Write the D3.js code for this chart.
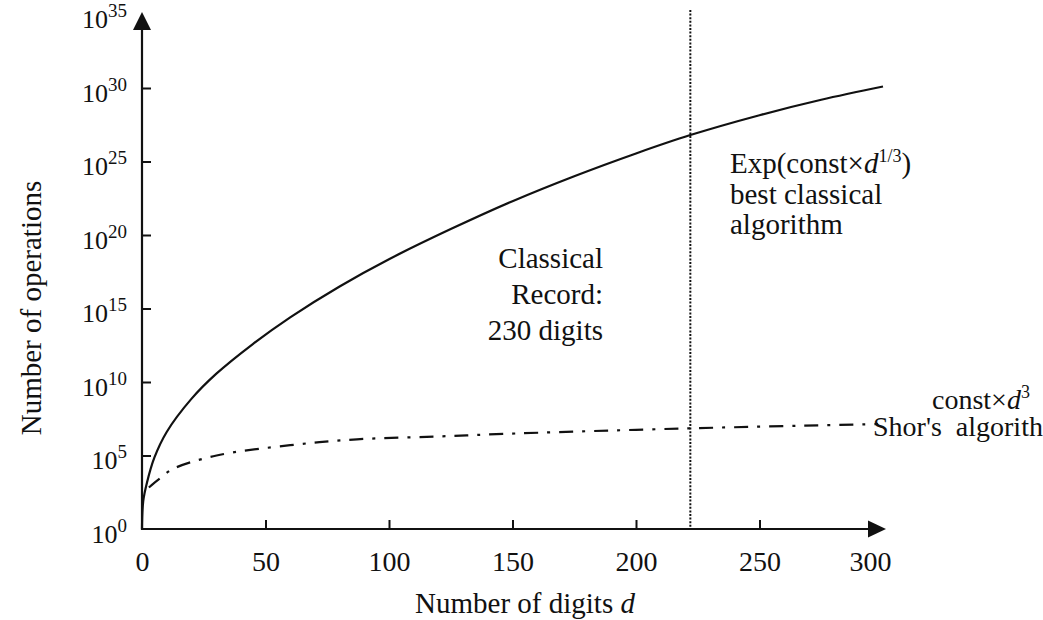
<!DOCTYPE html>
<html>
<head>
<meta charset="utf-8">
<script src="https://cdn.jsdelivr.net/npm/d3@7"></script>
<style>
  html, body { margin: 0; padding: 0; background: #fff; }
  svg { display: block; }
  text { font-family: "Liberation Serif", "Times New Roman", serif; fill: #111; }
</style>
</head>
<body>
<svg id="chart" width="1043" height="620"></svg>
<script>
// ---- data ----
const xTickValues = [0, 50, 100, 150, 200, 250, 300];
const yTickExponents = [0, 5, 10, 15, 20, 25, 30, 35];

// best classical algorithm: digits d -> log10(number of operations)
const classicalDigits = [0, 0.5, 2, 5, 10, 20, 30, 45, 60, 80, 100, 125, 150, 175, 200, 222, 250, 275, 300];
const classicalLog10  = [0, 1.9, 3.15, 4.85, 6.6, 8.85, 10.55, 12.6, 14.4, 16.5, 18.35, 20.4, 22.3, 24.0, 25.55, 26.8, 28.15, 29.2, 30.1];

// Shor's algorithm: digits d -> log10(number of operations)
const shorDigits = [2.8, 3.9, 7.3, 12.7, 30.2, 60, 87, 120.6, 151.7, 222, 298];
const shorLog10  = [2.82, 2.99, 3.45, 4.1, 5.0, 5.7, 6.1, 6.3, 6.5, 6.85, 7.14];

const recordDigits = 222;

// ---- layout ----
const svg = d3.select("#chart");
const x = d3.scaleLinear().domain([0, 300]).range([142, 883]);
const y = d3.scaleLog().domain([1, 1e35]).range([529, 14.5]);
const ink = "#111";

// x axis
const xAxis = d3.axisBottom(x)
  .tickValues(xTickValues)
  .tickSizeInner(-9).tickSizeOuter(0).tickPadding(22)
  .tickFormat(d3.format("d"));
const gx = svg.append("g").attr("transform", `translate(0,${y(1)})`).call(xAxis);
gx.select(".domain").remove();
gx.selectAll(".tick line").attr("stroke", ink).attr("stroke-width", 2)
  .filter(d => d === 0 || d === 300).remove();
gx.selectAll(".tick text")
  .attr("font-family", "Liberation Serif").attr("font-size", 28).attr("fill", ink)
  .attr("dx", d => d === 300 ? -13 : 0);

// y axis
const yAxis = d3.axisLeft(y)
  .tickValues(yTickExponents.map(e => Math.pow(10, e)))
  .tickSizeInner(-9).tickSizeOuter(0).tickPadding(15)
  .tickFormat(() => "");
const gy = svg.append("g").attr("transform", `translate(${x(0)},0)`).call(yAxis);
gy.select(".domain").remove();
gy.selectAll(".tick line").attr("stroke", ink).attr("stroke-width", 2)
  .filter((d, i) => i === 0 || i === yTickExponents.length - 1).remove();
gy.selectAll(".tick text").each(function(d, i) {
  const t = d3.select(this);
  t.attr("font-family", "Liberation Serif").attr("fill", ink).attr("dy", 13).attr("font-size", 26);
  t.append("tspan").text("10");
  t.append("tspan").attr("font-size", 19).attr("dy", -11).text(yTickExponents[i]);
});

// axis lines with arrows
svg.append("line").attr("x1", x(0)).attr("x2", 870).attr("y1", y(1)).attr("y2", y(1))
  .attr("stroke", ink).attr("stroke-width", 2.2);
svg.append("path").attr("d", `M868,${y(1) - 8.5} L886,${y(1)} L868,${y(1) + 8.5} Z`).attr("fill", ink);
svg.append("line").attr("x1", x(0)).attr("x2", x(0)).attr("y1", y(1) + 1).attr("y2", 28)
  .attr("stroke", ink).attr("stroke-width", 2.2);
svg.append("path").attr("d", `M${x(0) - 9},30 L${x(0)},12 L${x(0) + 9},30 Z`).attr("fill", ink);

// dotted record line
svg.append("line").attr("x1", x(recordDigits)).attr("x2", x(recordDigits))
  .attr("y1", 10).attr("y2", y(1))
  .attr("stroke", ink).attr("stroke-width", 2).attr("stroke-dasharray", "2,1.6");

// curves
const line = d3.line().x(d => x(d[0])).y(d => y(Math.pow(10, d[1]))).curve(d3.curveCatmullRom.alpha(0.5));
svg.append("path").datum(classicalDigits.map((d, i) => [d, classicalLog10[i]]))
  .attr("d", line).attr("fill", "none").attr("stroke", ink).attr("stroke-width", 2.2);
svg.append("path").datum(shorDigits.map((d, i) => [d, shorLog10[i]]))
  .attr("d", line).attr("fill", "none").attr("stroke", ink).attr("stroke-width", 2.2)
  .attr("stroke-dasharray", "14,9,3,9");

// axis titles
const xt = svg.append("text").attr("x", 525).attr("y", 613).attr("text-anchor", "middle").attr("font-size", 29);
xt.append("tspan").text("Number of digits ");
xt.append("tspan").attr("font-style", "italic").text("d");
svg.append("text").attr("transform", "translate(41,308) rotate(-90)")
  .attr("text-anchor", "middle").attr("font-size", 29).text("Number of operations");

// annotations
const rec = svg.append("text").attr("text-anchor", "end").attr("font-size", 29);
[["Classical", 268], ["Record:", 304], ["230 digits", 340]].forEach(([s, yy]) =>
  rec.append("tspan").attr("x", 603).attr("y", yy).text(s));

const exp = svg.append("text").attr("font-size", 29).attr("x", 730).attr("y", 173);
exp.append("tspan").text("Exp(const×");
exp.append("tspan").attr("font-style", "italic").text("d");
exp.append("tspan").attr("font-size", 18).attr("dy", -11).text("1/3");
exp.append("tspan").attr("dy", 11).text(")");
svg.append("text").attr("font-size", 29).attr("x", 730).attr("y", 203.5).text("best classical");
svg.append("text").attr("font-size", 29).attr("x", 730).attr("y", 233.5).text("algorithm");

const cst = svg.append("text").attr("font-size", 28).attr("x", 932).attr("y", 409);
cst.append("tspan").text("const×");
cst.append("tspan").attr("font-style", "italic").text("d");
cst.append("tspan").attr("font-size", 18).attr("dy", -11).text("3");
svg.append("text").attr("font-size", 28).attr("x", 873).attr("y", 436)
  .attr("xml:space", "preserve").text("Shor's  algorithm");
</script>
</body>
</html>
